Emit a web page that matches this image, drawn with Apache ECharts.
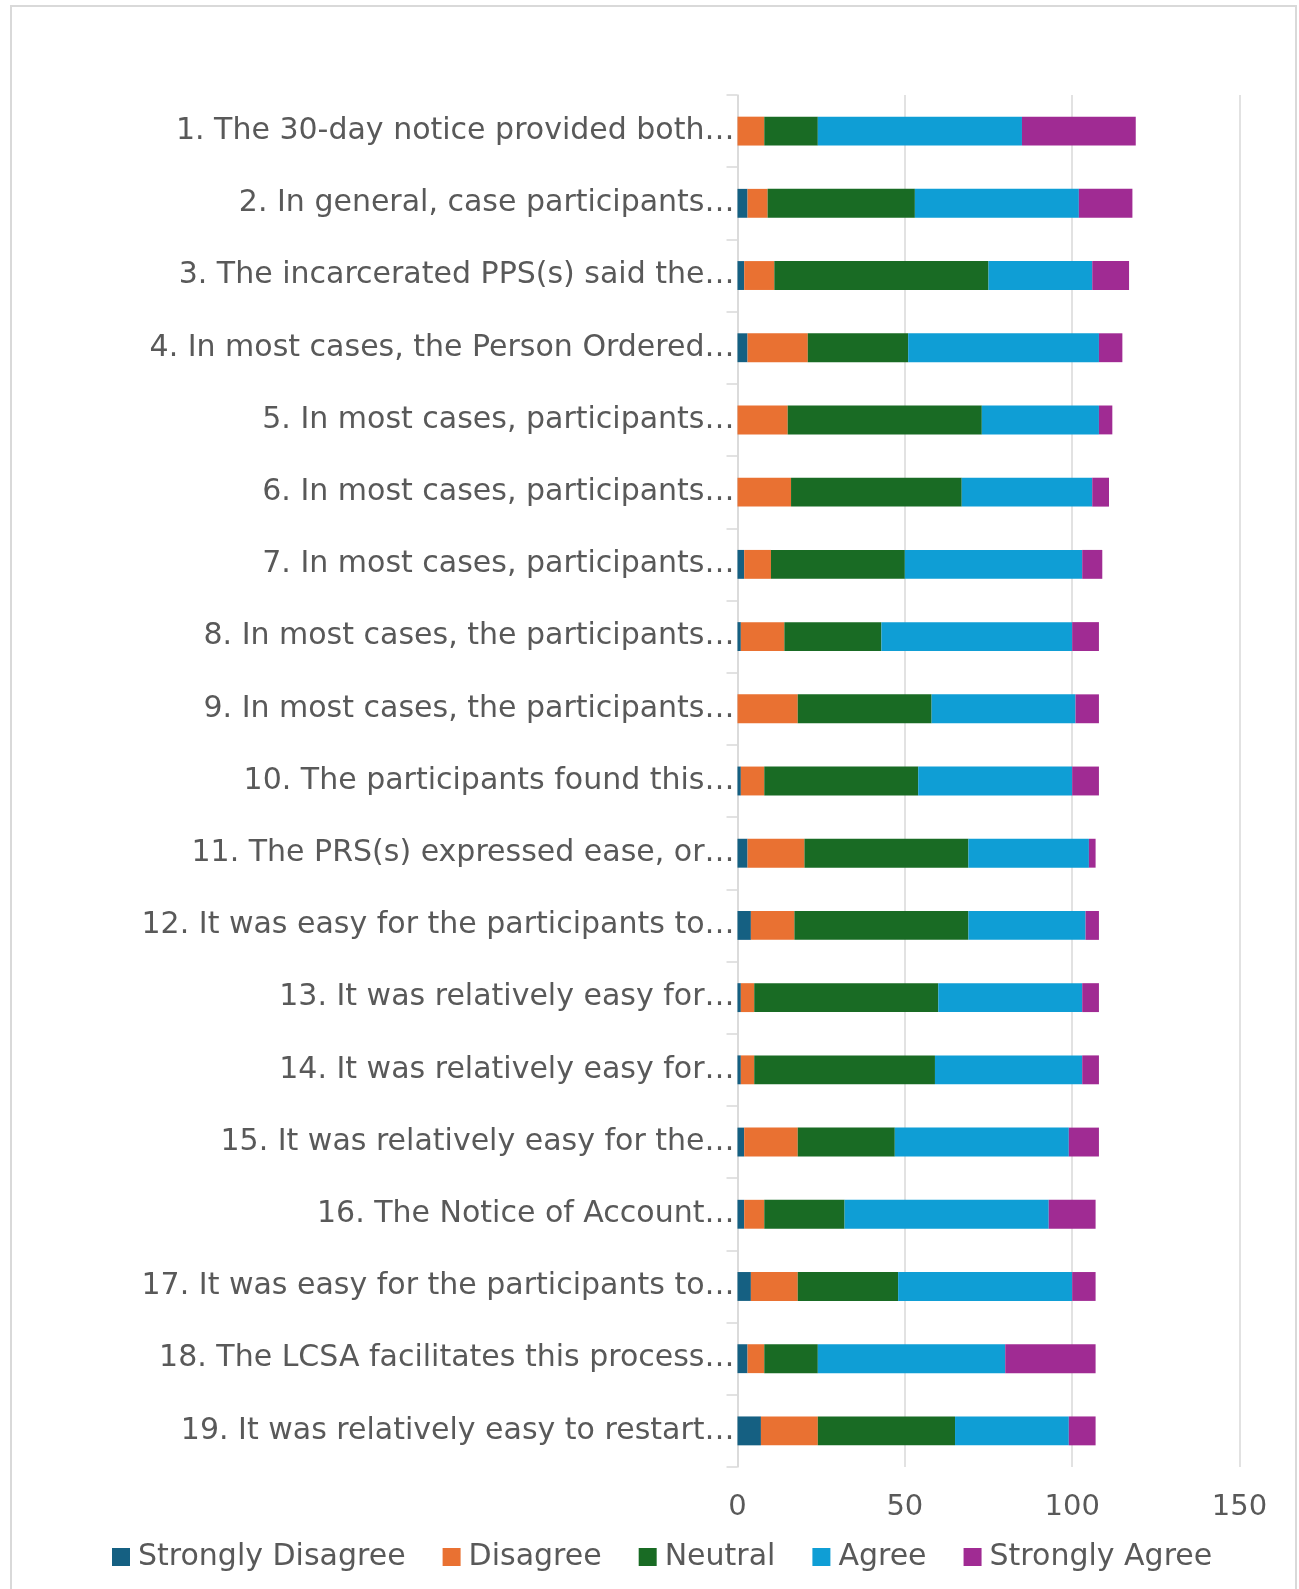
<!DOCTYPE html>
<html>
<head>
<meta charset="utf-8">
<style>
  html, body { margin: 0; padding: 0; background: #ffffff; }
  #chart { width: 1299px; height: 1589px; }
</style>
<script src="https://cdn.jsdelivr.net/npm/echarts@6/dist/echarts.min.js"></script>
</head>
<body>
<div id="chart"></div>
<script>
// Survey statements (truncated as they appear on the axis)
const statements = [
  '1. The 30-day notice provided both…',
  '2. In general, case participants…',
  '3. The incarcerated PPS(s) said the…',
  '4. In most cases, the Person Ordered…',
  '5. In most cases, participants…',
  '6. In most cases, participants…',
  '7. In most cases, participants…',
  '8. In most cases, the participants…',
  '9. In most cases, the participants…',
  '10. The participants found this…',
  '11. The PRS(s) expressed ease, or…',
  '12. It was easy for the participants to…',
  '13. It was relatively easy for…',
  '14. It was relatively easy for…',
  '15. It was relatively easy for the…',
  '16. The Notice of Account…',
  '17. It was easy for the participants to…',
  '18. The LCSA facilitates this process…',
  '19. It was relatively easy to restart…'
];

// Response counts per statement
const stronglyDisagree = [0, 3, 2, 3, 0, 0, 2, 1, 0, 1, 3, 4, 1, 1, 2, 2, 4, 3, 7];
const disagree         = [8, 6, 9, 18, 15, 16, 8, 13, 18, 7, 17, 13, 4, 4, 16, 6, 14, 5, 17];
const neutral          = [16, 44, 64, 30, 58, 51, 40, 29, 40, 46, 49, 52, 55, 54, 29, 24, 30, 16, 41];
const agree            = [61, 49, 31, 57, 35, 39, 53, 57, 43, 46, 36, 35, 43, 44, 52, 61, 52, 56, 34];
const stronglyAgree    = [34, 16, 11, 7, 4, 5, 6, 8, 7, 8, 2, 4, 5, 5, 9, 14, 7, 27, 8];

const valueTicks = { min: 0, max: 150, interval: 50 };

const seriesDefs = [
  { name: 'Strongly Disagree', data: stronglyDisagree, color: '#156082' },
  { name: 'Disagree',          data: disagree,         color: '#E97132' },
  { name: 'Neutral',           data: neutral,          color: '#196B24' },
  { name: 'Agree',             data: agree,            color: '#0F9ED5' },
  { name: 'Strongly Agree',    data: stronglyAgree,    color: '#A02B93' }
];

const FONT = "'DejaVu Sans', sans-serif";
const TEXT = '#595959';
const LINE = '#d9d9d9';

const chart = echarts.init(document.getElementById('chart'), null, { renderer: 'canvas' });

chart.setOption({
  animation: false,
  backgroundColor: '#ffffff',
  textStyle: { fontFamily: FONT, color: TEXT },
  graphic: [{
    type: 'rect',
    shape: { x: 11, y: 6, width: 1285, height: 1600 },
    style: { fill: 'none', stroke: LINE, lineWidth: 2 },
    silent: true,
    z: -1
  }],
  legend: {
    bottom: 12,
    left: 107,
    icon: 'rect',
    itemWidth: 18,
    itemHeight: 18,
    itemGap: 37,
    textStyle: { fontFamily: FONT, fontSize: 30, color: TEXT, padding: [0, 0, 0, 3] },
    data: seriesDefs.map(s => s.name)
  },
  grid: { left: 737.5, right: 59.5, top: 95, bottom: 122, containLabel: false },
  xAxis: {
    type: 'value',
    min: valueTicks.min,
    max: valueTicks.max,
    interval: valueTicks.interval,
    axisLine: { show: false },
    axisTick: { show: false },
    splitLine: { lineStyle: { color: LINE, width: 1.5 } },
    axisLabel: { fontFamily: FONT, fontSize: 29, color: TEXT, margin: 26 }
  },
  yAxis: {
    type: 'category',
    inverse: true,
    data: statements,
    axisLine: { lineStyle: { color: LINE, width: 1.5 } },
    axisTick: { show: true, length: 11, lineStyle: { color: LINE, width: 1.5 } },
    axisLabel: { fontFamily: FONT, fontSize: 30, color: TEXT, margin: 3, padding: [6, 0, 0, 0] }
  },
  series: seriesDefs.map(s => ({
    name: s.name,
    type: 'bar',
    stack: 'total',
    barWidth: '40%',
    data: s.data,
    itemStyle: { color: s.color }
  }))
});
</script>
</body>
</html>
